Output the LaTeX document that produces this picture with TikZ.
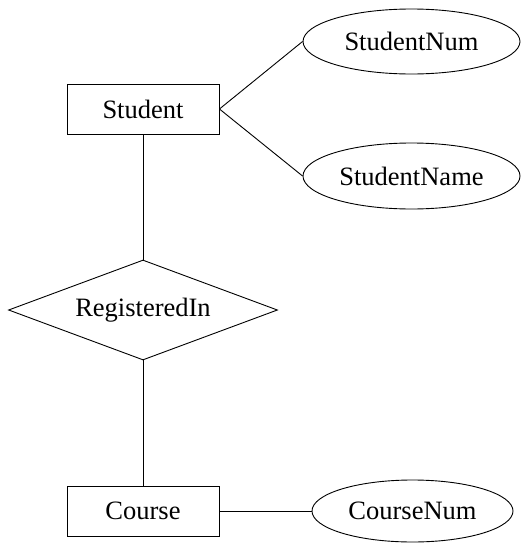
\documentclass[tikz,border=0pt]{standalone}
\usepackage{fontspec}
\setmainfont{Liberation Serif}
\usetikzlibrary{shapes.geometric}
\begin{document}
\begin{tikzpicture}[x=1pt,y=-1pt,
  every node/.style={font=\fontsize{26.5}{30}\selectfont, line width=0.9pt, inner sep=0pt},
  entity/.style={draw, rectangle, minimum width=152pt, minimum height=50pt},
  attr/.style={draw, ellipse},
  rel/.style={draw, diamond, shape aspect=2.69, minimum width=269pt, minimum height=100pt},
  conn/.style={line width=0.9pt}]
\useasboundingbox (0,0) rectangle (521,544);
\node[entity] (student) at (143,109) {Student};
\node[attr, minimum width=217pt, minimum height=65pt] (snum) at (411.5,41.5) {StudentNum};
\node[attr, minimum width=217pt, minimum height=66pt] (sname) at (411.5,176) {StudentName};
\node[rel] (reg) at (143,310) {RegisteredIn};
\node[entity] (course) at (143,511) {Course};
\node[attr, minimum width=201pt, minimum height=62pt] (cnum) at (412.5,511) {CourseNum};
\draw[conn] (student.east) -- (snum.west);
\draw[conn] (student.east) -- (sname.west);
\draw[conn] (student.south) -- (reg.north);
\draw[conn] (reg.south) -- (course.north);
\draw[conn] (course.east) -- (cnum.west);
\end{tikzpicture}
\end{document}
